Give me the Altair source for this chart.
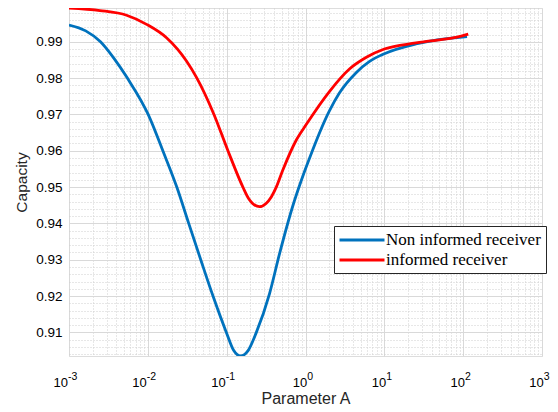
import altair as alt
import pandas as pd

# ---- data ----
series_names = ["Non informed receiver", "informed receiver"]
series_colors = ["#0072BD", "#FF0000"]

blue_x = [0.001, 0.00163, 0.00251, 0.0037, 0.0055, 0.0101, 0.0155, 0.0233, 0.0330,
          0.0469, 0.0671, 0.0991, 0.123, 0.150, 0.186, 0.238, 0.350, 0.469, 0.690,
          0.891, 1.02, 2.01, 2.69, 4.39, 6.5, 10, 25.2, 97.0, 112]
blue_y = [0.9946, 0.9930, 0.9900, 0.9855, 0.9800, 0.9700, 0.9600, 0.9500, 0.9400,
          0.9300, 0.9200, 0.9100, 0.9050, 0.9035, 0.9049, 0.9100, 0.9207, 0.9317, 0.9448,
          0.9520, 0.9555, 0.9710, 0.9759, 0.9815, 0.9846, 0.9867, 0.9894, 0.9913, 0.9914]

red_x = [0.001, 0.00247, 0.00537, 0.00964, 0.01726, 0.0309, 0.0414, 0.0690, 0.1038,
         0.1607, 0.1905, 0.2133, 0.260, 0.316, 0.368, 0.426, 0.516, 0.762, 1.02, 2.01,
         3.61, 6.0, 10, 25.2, 97.0, 116]
red_y = [0.9993, 0.9986, 0.9973, 0.9948, 0.9911, 0.9847, 0.9802, 0.9700, 0.9600,
         0.9500, 0.9468, 0.9455, 0.9446, 0.9455, 0.9473, 0.9500, 0.9547, 0.9629, 0.9672, 0.9763,
         0.9825, 0.9858, 0.9880, 0.9897, 0.9916, 0.9921]

x_ticks = [0.001, 0.01, 0.1, 1, 10, 100, 1000]
x_minor = [m * d for d in [0.001, 0.01, 0.1, 1, 10, 100] for m in range(2, 10)]
y_ticks = [0.91, 0.92, 0.93, 0.94, 0.95, 0.96, 0.97, 0.98, 0.99]
y_minor = [0.904, 0.906, 0.908] + [round(t + s, 3) for t in y_ticks for s in (0.002, 0.004, 0.006, 0.008)]

df = pd.DataFrame({
    "x": blue_x + red_x,
    "y": blue_y + red_y,
    "series": [series_names[0]] * len(blue_x) + [series_names[1]] * len(red_x),
})

xscale = alt.Scale(type="log", domain=[0.001, 1000], nice=False)
yscale = alt.Scale(domain=[0.9035, 0.9993], nice=False, zero=False)

TXT = "#262626"
FONT = "Liberation Sans"
off_cond = {"condition": {"test": "datum.value < 1", "value": -1.5}, "value": 1.3}

base = alt.Chart(df)

lines = base.mark_line(strokeWidth=2.8, clip=True, interpolate="monotone").encode(
    x=alt.X("x:Q", scale=xscale, axis=alt.Axis(
        orient="bottom", values=x_ticks, labelExpr="'10'", grid=True, gridColor="#d9d9d9", gridWidth=1,
        ticks=False, domain=False, labelAlign="right", labelOffset=off_cond,
        labelPadding=20, labelFontSize=13, labelBaseline="top",
        title="Parameter A", titleFontSize=16, titleFontWeight="normal", titleFont=FONT,
        titleColor=TXT, titleY=47.3, titleBaseline="alphabetic")),
    y=alt.Y("y:Q", scale=yscale, axis=alt.Axis(
        orient="left", values=y_ticks, format=".2f", grid=True, gridColor="#d9d9d9", gridWidth=1,
        ticks=False, domain=False, labelPadding=7, labelFontSize=13.5,
        title="Capacity", titleFontSize=15.5, titleFontWeight="normal", titleFont=FONT,
        titleColor=TXT, titleX=-42.5, titleBaseline="alphabetic")),
    color=alt.Color("series:N", sort=series_names,
                    scale=alt.Scale(domain=series_names, range=series_colors),
                    legend=alt.Legend(
                        orient="none", legendX=265, legendY=218, title=None,
                        symbolType="M-3,0H3", symbolSize=225, symbolStrokeWidth=2.8,
                        symbolOffset=14, labelOffset=15, rowPadding=3, padding=5,
                        labelFont="Liberation Serif", labelFontSize=17, labelColor="#000000",
                        strokeColor="#262626", fillColor="#ffffff", cornerRadius=0)),
)

exp_layer = base.mark_point(opacity=0, size=1).encode(
    x=alt.X("x:Q", scale=xscale, axis=alt.Axis(
        orient="bottom", values=x_ticks,
        labelExpr="'' + round(log(datum.value) / LN10)",
        grid=False, ticks=False, domain=False, labelAlign="left", labelOffset=off_cond,
        labelPadding=15.7, labelFontSize=10.5, labelBaseline="top", title=None)),
    y=alt.Y("y:Q", scale=yscale, axis=alt.Axis(
        orient="left", values=y_minor, labels=False, ticks=False, domain=False,
        grid=True, gridColor="#cfcfcf", gridDash=[1, 2], gridWidth=1, title=None)),
)

minor_x = base.mark_point(opacity=0, size=1).encode(
    x=alt.X("x:Q", scale=xscale, axis=alt.Axis(
        orient="bottom", values=x_minor, labels=False, ticks=False, domain=False,
        grid=True, gridColor="#cfcfcf", gridDash=[1, 2], gridWidth=1, title=None)),
    y=alt.Y("y:Q", scale=yscale, axis=None),
)

chart = alt.layer(minor_x, exp_layer, lines).resolve_axis(
    x="independent", y="independent"
).properties(
    width=473, height=348,
    autosize=alt.AutoSizeParams(type="none"),
    padding={"left": 61, "top": 0, "right": 8, "bottom": 52},
).configure_view(
    stroke=TXT, strokeWidth=1
).configure_axis(
    labelFont=FONT, titleFont=FONT,
    labelColor=TXT, titleColor=TXT, titleFontWeight="normal",
).configure(background="white")

chart.save("out.html", embed_options={"renderer": "svg", "actions": False})
